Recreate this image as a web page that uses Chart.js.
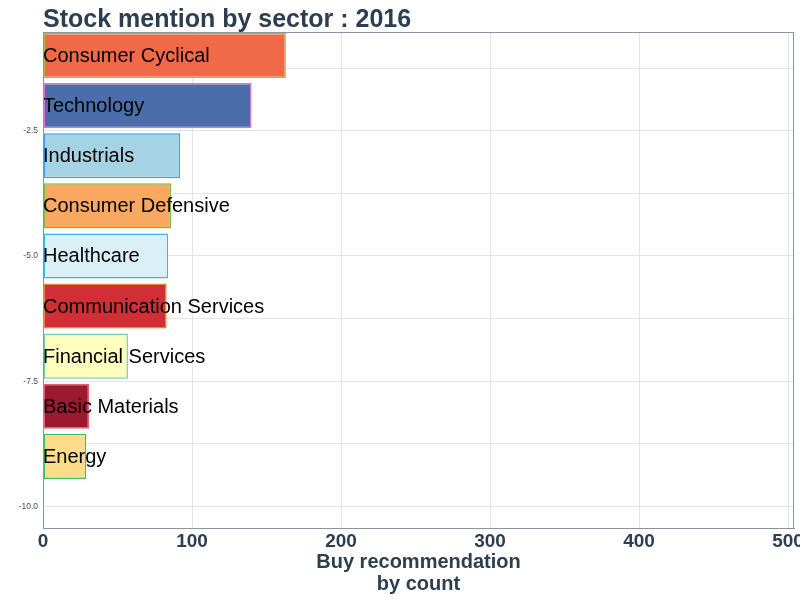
<!DOCTYPE html>
<html>
<head>
<meta charset="utf-8">
<script src="https://cdn.jsdelivr.net/npm/chart.js@4"></script>
<style>
  html, body { margin: 0; padding: 0; background: #fff; }
  #wrap { width: 800px; height: 600px; }
</style>
</head>
<body>
<div id="wrap"><canvas id="chart"></canvas></div>
<script>
const sectors = ['Consumer Cyclical', 'Technology', 'Industrials', 'Consumer Defensive', 'Healthcare',
  'Communication Services', 'Financial Services', 'Basic Materials', 'Energy'];
const mentions = [163, 140, 92, 86, 84, 83, 57, 31, 29];
const positions = [-1, -2, -3, -4, -5, -6, -7, -8, -9];
const fillColors = ['#f06a48', '#496ea9', '#a5d3e3', '#f8a860', '#daf0f6', '#d03035', '#fefebe', '#9c1a30', '#fcdb8a'];
const edgeColors = ['#b5b53a', '#e070e0', '#3aa0f0', '#80b840', '#3ab8e0', '#e08a3a', '#70d0b0', '#e86070', '#40c060'];
const xTicks = [0, 100, 200, 300, 400, 500];
const yLabelTicks = [-2.5, -5, -7.5, -10];

const FONT = '"Liberation Sans", Arial, sans-serif';
const DARK = '#2c3e50';

// title drawn at the left edge of the plot, plus the box around the plot
const frame = {
  id: 'frame',
  afterDraw(chart) {
    const { ctx, chartArea: a } = chart;
    ctx.save();
    ctx.strokeStyle = '#8c959d';
    ctx.lineWidth = 1;
    ctx.strokeRect(a.left + 0.5, a.top + 0.5, a.right - a.left - 1, a.bottom - a.top);
    ctx.fillStyle = DARK;
    ctx.font = 'bold 25px ' + FONT;
    ctx.textBaseline = 'alphabetic';
    ctx.fillText('Stock mention by sector : 2016', a.left, 27);
    ctx.restore();
  }
};

// sector names written over the bars, starting at the y axis
const barLabels = {
  id: 'barLabels',
  afterDatasetsDraw(chart) {
    const { ctx, chartArea: a } = chart;
    ctx.save();
    ctx.fillStyle = '#000';
    ctx.font = '20px ' + FONT;
    ctx.textBaseline = 'middle';
    chart.getDatasetMeta(0).data.forEach((bar, i) => {
      ctx.fillText(sectors[i], a.left, bar.y + 1);
    });
    ctx.restore();
  }
};

new Chart(document.getElementById('chart'), {
  type: 'bar',
  data: {
    datasets: [{
      data: mentions.map((v, i) => ({ x: v, y: positions[i] })),
      backgroundColor: fillColors,
      borderColor: edgeColors,
      borderWidth: 1.5,
      borderSkipped: false,
      categoryPercentage: 1,
      barPercentage: 0.9
    }]
  },
  options: {
    indexAxis: 'y',
    responsive: true,
    maintainAspectRatio: false,
    animation: false,
    layout: { padding: { top: 32, right: 6, bottom: 5, left: 0 } },
    plugins: {
      legend: { display: false },
      tooltip: { enabled: false },
      title: { display: false }
    },
    scales: {
      x: {
        type: 'linear',
        min: 0,
        max: 504,
        afterBuildTicks: s => { s.ticks = xTicks.map(v => ({ value: v })); },
        afterFit: s => { s.paddingRight = 0; },
        grid: { color: '#e4e4e4', drawTicks: false },
        border: { display: true, color: '#8c959d' },
        ticks: {
          padding: 4,
          color: DARK,
          font: { family: FONT, size: 19, weight: 'bold', lineHeight: 1 },
          maxRotation: 0
        },
        title: {
          display: true,
          text: ['Buy recommendation', 'by count'],
          color: DARK,
          font: { family: FONT, size: 20, weight: 'bold', lineHeight: 1.1 },
          padding: { top: -4, bottom: 0 }
        }
      },
      y: {
        type: 'linear',
        min: -10.43,
        max: -0.53,
        offset: false,
        afterFit: s => { s.width = 43; },
        ticks: {
          stepSize: 1.25,
          includeBounds: false,
          padding: 5,
          color: '#4d4d4d',
          font: { family: FONT, size: 8.5 },
          callback: v => yLabelTicks.some(t => Math.abs(t - v) < 1e-6) ? v.toFixed(1) : ''
        },
        grid: { color: '#e4e4e4', drawTicks: false, offset: false },
        border: { display: true, color: '#8c959d' }
      }
    }
  },
  plugins: [frame, barLabels]
});
</script>
</body>
</html>
